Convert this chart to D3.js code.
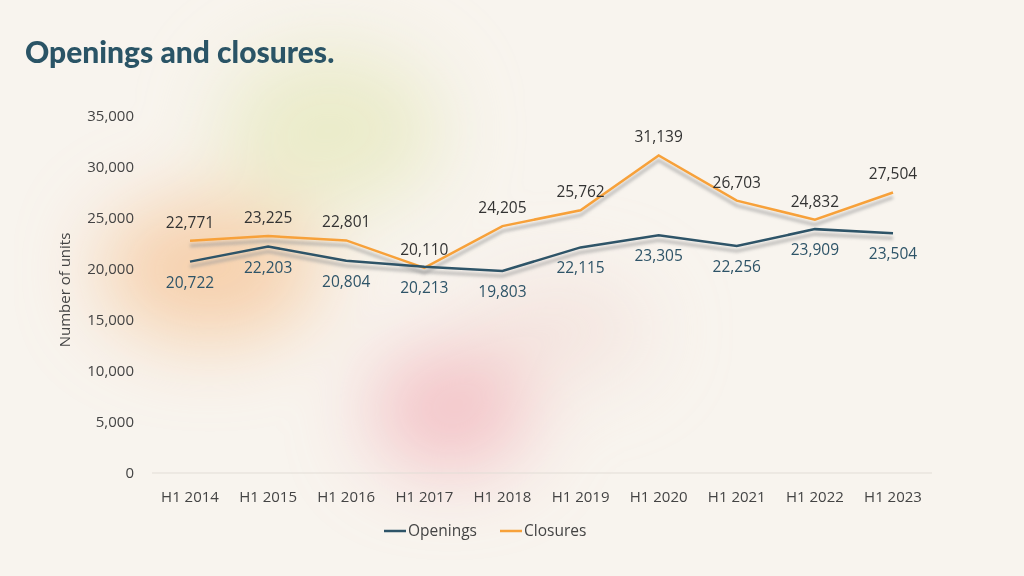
<!DOCTYPE html>
<html>
<head>
<meta charset="UTF-8">
<script src="https://cdnjs.cloudflare.com/ajax/libs/d3/7.8.5/d3.min.js"></script>
<style>body{margin:0;background:#f8f4ee;font-family:"Open Sans",sans-serif}</style>
</head>
<body>
<svg id="c" width="1024" height="576"></svg>
<script>
var categories = ["H1 2014","H1 2015","H1 2016","H1 2017","H1 2018","H1 2019","H1 2020","H1 2021","H1 2022","H1 2023"];
var openings = [20722,22203,20804,20213,19803,22115,23305,22256,23909,23504];
var closures = [22771,23225,22801,20110,24205,25762,31139,26703,24832,27504];
var yTicks = [0,5000,10000,15000,20000,25000,30000,35000];

var svg = d3.select("#c");
var defs = svg.append("defs");
defs.append("filter").attr("id","blur").attr("x","-50%").attr("y","-50%").attr("width","200%").attr("height","200%")
  .append("feGaussianBlur").attr("stdDeviation",40);
defs.append("filter").attr("id","sh").append("feGaussianBlur").attr("stdDeviation",1.5);

svg.append("rect").attr("width",1024).attr("height",576).attr("fill","#f8f4ee");
var blobs = svg.append("g").attr("filter","url(#blur)");
blobs.append("ellipse").attr("cx",330).attr("cy",130).attr("rx",110).attr("ry",80).attr("fill","#e6e8bd").attr("opacity",0.75);
blobs.append("ellipse").attr("cx",210).attr("cy",270).attr("rx",110).attr("ry",70).attr("fill","#f6c9a0").attr("opacity",0.85);
blobs.append("ellipse").attr("cx",450).attr("cy",410).attr("rx",80).attr("ry",60).attr("fill","#f2b9c0").attr("opacity",0.85);
blobs.append("ellipse").attr("cx",560).attr("cy",330).attr("rx",90).attr("ry",50).attr("fill","#f1dbd6").attr("opacity",0.6);

svg.append("text").attr("x",25).attr("y",63).text("Openings and closures.")
  .attr("font-family","Lato").attr("font-weight",900).attr("font-size",30).attr("fill","#2a5466");

var x = d3.scalePoint().domain(categories).range([190,893]);
var y = d3.scaleLinear().domain([0,35000]).range([473,116]);

svg.append("line").attr("x1",152).attr("x2",932).attr("y1",y(0)).attr("y2",y(0)).attr("stroke","#e2ddd6");

svg.append("g").selectAll("text").data(yTicks).join("text")
  .attr("x",134).attr("y",d=>y(d)+5).attr("text-anchor","end").attr("font-size",15).attr("fill","#444")
  .text(d3.format(","));
svg.append("g").selectAll("text").data(categories).join("text")
  .attr("x",d=>x(d)).attr("y",502).attr("text-anchor","middle").attr("font-size",15).attr("fill","#444").text(d=>d);
svg.append("text").attr("transform","translate(70,290) rotate(-90)").attr("text-anchor","middle")
  .attr("font-size",15).attr("fill","#444").text("Number of units");

function series(vals, color, above, labColor){
  var line = d3.line().x((d,i)=>x(categories[i])).y(d=>y(d));
  svg.append("path").datum(vals).attr("d",line).attr("fill","none").attr("stroke","#999").attr("stroke-opacity",0.55)
    .attr("stroke-width",3.5).attr("transform","translate(0,5)").attr("filter","url(#sh)");
  svg.append("path").datum(vals).attr("d",line).attr("fill","none").attr("stroke",color).attr("stroke-width",2.5);
  svg.append("g").selectAll("text").data(vals).join("text")
    .attr("x",(d,i)=>x(categories[i])).attr("y",d=>y(d)+(above?-13:26)).attr("text-anchor","middle")
    .attr("font-size",15.5).attr("fill",labColor).text(d3.format(","));
}
series(closures,"#f7a13a",true,"#333");
series(openings,"#2e5468",false,"#2e5468");

var lg = svg.append("g");
[["Openings","#2e5468",384],["Closures","#f7a13a",500]].forEach(function(l){
  lg.append("line").attr("x1",l[2]).attr("x2",l[2]+22).attr("y1",531).attr("y2",531).attr("stroke",l[1]).attr("stroke-width",2.5);
  lg.append("text").attr("x",l[2]+24).attr("y",536).attr("font-size",15.5).attr("fill","#444").text(l[0]);
});
</script>
</body>
</html>
